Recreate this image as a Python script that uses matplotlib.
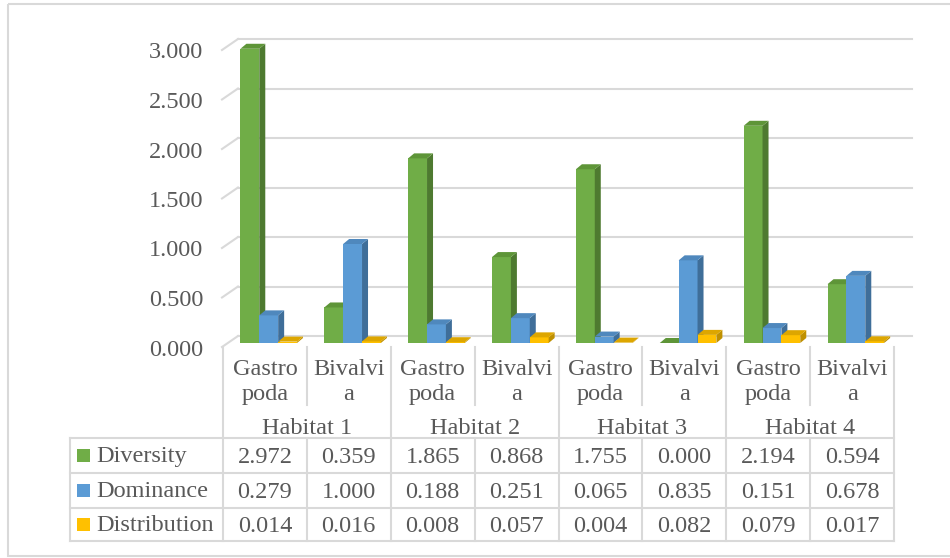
import matplotlib.pyplot as plt
import numpy as np
from matplotlib.patches import Polygon, Rectangle
from matplotlib.transforms import IdentityTransform

habitats = ['Habitat 1', 'Habitat 2', 'Habitat 3', 'Habitat 4']
taxa = ['Gastro\npoda', 'Bivalvi\na']
series = ['Diversity', 'Dominance', 'Distribution']
diversity = [2.972, 0.359, 1.865, 0.868, 1.755, 0.000, 2.194, 0.594]
dominance = [0.279, 1.000, 0.188, 0.251, 0.065, 0.835, 0.151, 0.678]
distribution = [0.014, 0.016, 0.008, 0.057, 0.004, 0.082, 0.079, 0.017]
yticks = [0, 0.5, 1.0, 1.5, 2.0, 2.5, 3.0]

front = ['#70AD47', '#5B9BD5', '#FFC000']
side = ['#4E7A30', '#3F6E99', '#BF9000']
top = ['#5E9538', '#4F88BD', '#DDA600']
grey = '#595959'
lc = '#D9D9D9'

plt.rcParams['font.family'] = ['Liberation Serif', 'DejaVu Serif']
fs = 17.5

W, H = 950, 558
fig = plt.figure(figsize=(W / 100, H / 100), dpi=100)

# overlay in pixel coords for table / labels
ov = fig.add_axes([0, 0, 1, 1])
ov.set_xlim(0, W)
ov.set_ylim(H, 0)
ov.axis('off')

ax = fig.add_axes([223 / W, 1 - 343 / H, 671 / W, 297 / H])
ax.set_xlim(-0.5, 7.5)
ax.set_ylim(0, 3.0)
ax.axis('off')


def px(x, y):
    d = ax.transData.transform((x, y))
    return d[0], H - d[1]


# gridlines on the back wall + little diagonals on the left
for t in yticks:
    x0, y0 = px(-0.5, t)
    x1, _ = px(7.5, t)
    ov.plot([x0 + 15, x1 + 18], [y0 - 7, y0 - 7], color=lc, lw=1.5, zorder=1)
    ov.plot([x0 - 1, x0 + 15], [y0 + 4, y0 - 7], color=lc, lw=1.5, zorder=1)
    ov.text(203, y0 + 7, f'{t:.3f}', ha='right', va='center', fontsize=fs, color=grey)

# bars with fake 3d faces
x = np.arange(len(diversity))
w = 0.225
offsets = [-0.18, 0.045, 0.27]
dx, dy = 6, 5
for i, vals in enumerate([diversity, dominance, distribution]):
    bars = ax.bar(x + offsets[i], vals, w, color=front[i], zorder=3 + i)
    for b in bars:
        bx0, bx1 = b.get_x(), b.get_x() + b.get_width()
        h = b.get_height()
        (ax0, yb), (ax1, yt) = ax.transData.transform([(bx0, 0), (bx1, h)])
        sd = [(ax1, yb), (ax1, yt), (ax1 + dx, yt + dy), (ax1 + dx, yb + dy)]
        tp = [(ax0, yt), (ax1, yt), (ax1 + dx, yt + dy), (ax0 + dx, yt + dy)]
        ax.add_patch(Polygon(sd, closed=True, fc=side[i], ec='none',
                             transform=IdentityTransform(), clip_on=False, zorder=3 + i))
        ax.add_patch(Polygon(tp, closed=True, fc=top[i], ec='none',
                             transform=IdentityTransform(), clip_on=False, zorder=3 + i))

# category labels
n = len(diversity)
for i in range(n):
    cx = px(i, 0)[0]
    ov.text(cx, 382, taxa[i % 2], ha='center', va='center', fontsize=fs,
            color=grey, linespacing=1.25)
for j, hab in enumerate(habitats):
    cx = px(2 * j + 0.5, 0)[0]
    ov.text(cx, 428, hab, ha='center', va='center', fontsize=fs, color=grey)

# separators
for k in range(n + 1):
    bx = px(k - 0.5, 0)[0]
    if k % 2 == 0:
        ov.plot([bx, bx], [347, 541], color=lc, lw=1.5)
    else:
        ov.plot([bx, bx], [347, 405], color=lc, lw=1.5)
        ov.plot([bx, bx], [438, 541], color=lc, lw=1.5)

# data table
xr = px(7.5, 0)[0]
rows = [438, 473, 508, 541]
for r in rows:
    ov.plot([70, xr], [r, r], color=lc, lw=1.5)
ov.plot([70, 70], [438, 541], color=lc, lw=1.5)

for s, (name, vals) in enumerate(zip(series, [diversity, dominance, distribution])):
    yc = (rows[s] + rows[s + 1]) / 2
    ov.add_patch(Rectangle((77, yc - 6.5), 13, 13, fc=front[s], ec='none'))
    ov.text(96, yc + 1, name, ha='left', va='center', fontsize=fs, color=grey)
    for i, v in enumerate(vals):
        ov.text(px(i, 0)[0], yc + 2, f'{v:.3f}', ha='center', va='center',
                fontsize=fs, color=grey)

# outer border
ov.add_patch(Rectangle((8, 4), 960, 552, fill=False, ec=lc, lw=1.5, clip_on=False))

fig.savefig('out.png', dpi=100)
